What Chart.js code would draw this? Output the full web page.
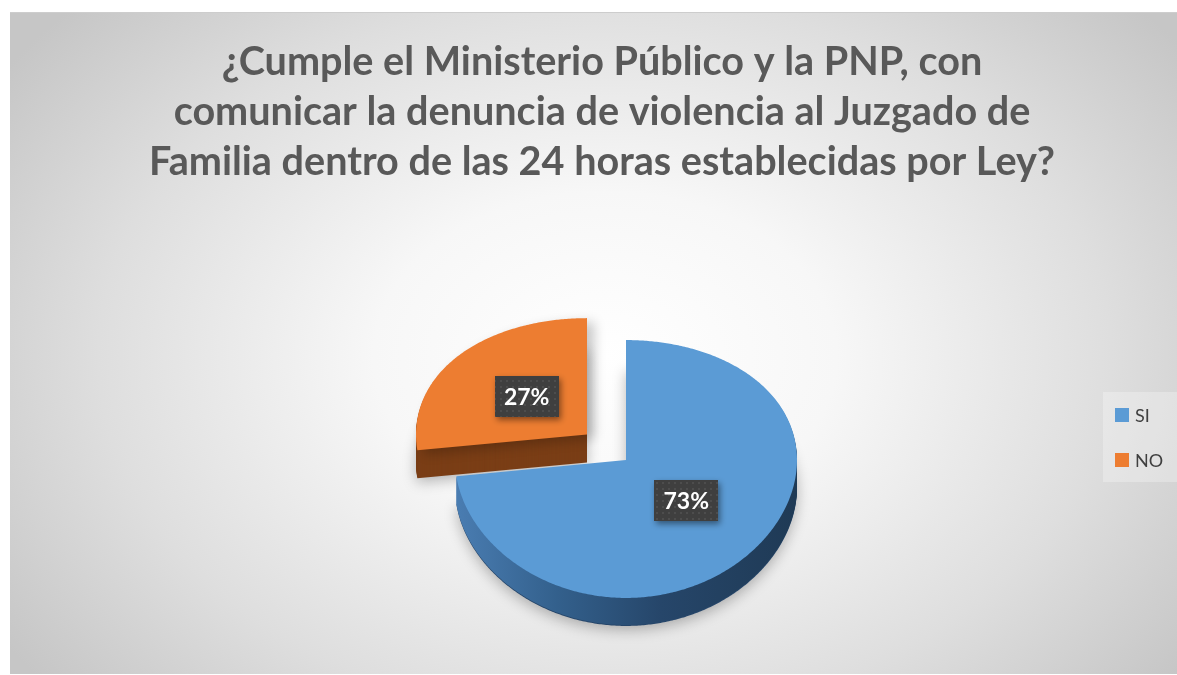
<!DOCTYPE html>
<html><head><meta charset="utf-8">
<script src="https://cdn.jsdelivr.net/npm/chart.js@4.4.1/dist/chart.umd.min.js"></script>
<style>
html,body{margin:0;padding:0;background:#fff;}
#wrap{position:absolute;left:0;top:0;width:1177px;height:675px;overflow:hidden}
#bg{position:absolute;left:10px;top:12px;width:1167px;height:662px;
 background:radial-gradient(ellipse 62% 78% at 51% 52%, #ffffff 0%, #f7f7f7 32%, #dedede 70%, #c6c6c6 100%);
 border-top:1px solid #cdcdcd;box-sizing:border-box}
canvas{position:absolute;left:0;top:0}
</style></head><body>
<div id="wrap"><div id="bg"></div><canvas id="c" width="1177" height="675"></canvas></div>
<script>
// ---- data ----
const categories = ['SI', 'NO'];
const values = [73, 27];
const titleLines = [
  '¿Cumple el Ministerio Público y la PNP, con',
  'comunicar la denuncia de violencia al Juzgado de',
  'Familia dentro de las 24 horas establecidas por Ley?'
];
// ---- styles ----
const topColors = ['#5B9BD5', '#ED7D31'];
const explodeDist = [0, 52];
const TILT = 0.754, PERSP = 9, DEPTH = 27;
const FONT = 'Lato, "Open Sans", sans-serif';

// fit title font to reference width
const mctx = document.createElement('canvas').getContext('2d');
mctx.font = 'bold 37px ' + FONT;
const titleSize = Math.round(37 * 761 / mctx.measureText(titleLines[0]).width * 10) / 10;
const lineH = 50;

// left spacer box so the pie sits right of the title centre
const spacer = {
  id: 'spacer',
  afterInit(chart) {
    Chart.layouts.addBox(chart, {
      position: 'left', weight: 100, fullSize: false,
      options: { display: true },
      width: 48, height: 0, left: 0, top: 0, right: 0, bottom: 0,
      isHorizontal() { return false; },
      update(maxW, maxH) { this.width = 48; this.height = maxH; },
      getPadding() { return { left: 0, right: 0, top: 0, bottom: 0 }; },
      draw() {}
    });
  }
};

function darkPattern(ctx) {
  const p = document.createElement('canvas'); p.width = 6; p.height = 6;
  const c = p.getContext('2d');
  c.fillStyle = '#3f3f3f'; c.fillRect(0, 0, 6, 6);
  c.fillStyle = '#4d4d4d'; c.fillRect(2, 2, 2, 2);
  return ctx.createPattern(p, 'repeat');
}

// tilted projection of the library's flat pie geometry
function project(el0, x, y, shift) {
  const cy = el0.y, R = el0.outerRadius;
  const v = y - cy;
  return [x, cy + TILT * v + PERSP * (v / R) * (v / R) + (shift || 0)];
}

const pie3d = {
  id: 'pie3d',
  beforeDatasetsDraw(chart) {
    const ctx = chart.ctx;
    const els = chart.getDatasetMeta(0).data;
    const el0 = els[0];
    const R = el0.outerRadius, cx = el0.x;
    function path(i, shift) {
      const el = els[i];
      const mid = (el.startAngle + el.endAngle) / 2;
      const ox = el.x + Math.cos(mid) * explodeDist[i];
      const oy = el.y + Math.sin(mid) * explodeDist[i];
      const n = Math.max(8, Math.ceil((el.endAngle - el.startAngle) / 0.01));
      ctx.beginPath();
      let p = project(el0, ox, oy, shift);
      ctx.moveTo(p[0], p[1]);
      for (let k = 0; k <= n; k++) {
        const a = el.startAngle + (el.endAngle - el.startAngle) * k / n;
        p = project(el0, ox + el.outerRadius * Math.cos(a), oy + el.outerRadius * Math.sin(a), shift);
        ctx.lineTo(p[0], p[1]);
      }
      ctx.closePath();
    }
    [1, 0].forEach(i => {
      let side;
      if (i === 0) {
        side = ctx.createLinearGradient(cx - R, 0, cx + R, 0);
        side.addColorStop(0, '#4a7db2');
        side.addColorStop(0.3, '#33608c');
        side.addColorStop(0.6, '#26466a');
        side.addColorStop(1, '#1f3a55');
      } else {
        side = '#7a3e16';
      }
      ctx.save();
      ctx.shadowColor = 'rgba(0,0,0,0.28)';
      ctx.shadowBlur = 14; ctx.shadowOffsetY = 4;
      ctx.fillStyle = i === 0 ? '#26466a' : '#7a3e16';
      path(i, DEPTH + 1); ctx.fill();
      ctx.shadowColor = 'transparent';
      ctx.fillStyle = side;
      for (let s = DEPTH; s >= 1; s--) { path(i, s); ctx.fill(); }
      if (i === 1) {
        ctx.shadowColor = 'rgba(0,0,0,0.22)';
        ctx.shadowBlur = 12; ctx.shadowOffsetX = 7; ctx.shadowOffsetY = 4;
      }
      ctx.fillStyle = topColors[i];
      path(i, 0); ctx.fill();
      ctx.restore();
    });
    return false;
  },
  afterDraw(chart) {
    const ctx = chart.ctx;
    const els = chart.getDatasetMeta(0).data;
    const el0 = els[0];
    const total = values.reduce((a, b) => a + b, 0);
    const pat = darkPattern(ctx);
    els.forEach((el, i) => {
      const mid = (el.startAngle + el.endAngle) / 2;
      const r = el.outerRadius * 0.47;
      const p = project(el0, el.x + Math.cos(mid) * (explodeDist[i] + r),
                             el.y + Math.sin(mid) * (explodeDist[i] + r), 0);
      const sx = p[0], sy = p[1];
      const txt = Math.round(values[i] / total * 100) + '%';
      const w = 64, h = 41;
      ctx.save();
      ctx.shadowColor = 'rgba(0,0,0,0.45)'; ctx.shadowBlur = 6;
      ctx.shadowOffsetX = 2; ctx.shadowOffsetY = 3;
      ctx.fillStyle = pat;
      ctx.fillRect(Math.round(sx - w / 2), Math.round(sy - h / 2), w, h);
      ctx.restore();
      ctx.fillStyle = '#ffffff';
      ctx.font = 'bold 23px ' + FONT;
      ctx.textAlign = 'center'; ctx.textBaseline = 'middle';
      ctx.fillText(txt, sx, sy + 1);
    });
    ctx.save();
    ctx.fillStyle = 'rgba(255,255,255,0.28)';
    ctx.fillRect(1103, 392, 74, 90);
    ctx.font = '18px ' + FONT;
    ctx.textAlign = 'left'; ctx.textBaseline = 'middle';
    categories.forEach((c, i) => {
      const y = 415 + i * 45;
      ctx.fillStyle = topColors[i];
      ctx.fillRect(1115, y - 7, 14, 14);
      ctx.fillStyle = '#404040';
      ctx.fillText(c, 1135, y + 1);
    });
    ctx.restore();
  }
};

new Chart(document.getElementById('c'), {
  type: 'pie',
  data: {
    labels: categories,
    datasets: [{ data: values, backgroundColor: topColors, borderWidth: 0 }]
  },
  options: {
    responsive: false,
    animation: false,
    events: [],
    radius: 171,
    layout: { padding: { left: 27, right: 0, top: 0, bottom: 55 } },
    plugins: {
      legend: { display: false },
      tooltip: { enabled: false },
      title: {
        display: true,
        text: titleLines,
        color: '#595959',
        font: { family: FONT, size: titleSize, weight: 'bold', lineHeight: lineH / titleSize },
        padding: { top: 37, bottom: 113 }
      }
    }
  },
  plugins: [spacer, pie3d]
});
</script>
</body></html>
